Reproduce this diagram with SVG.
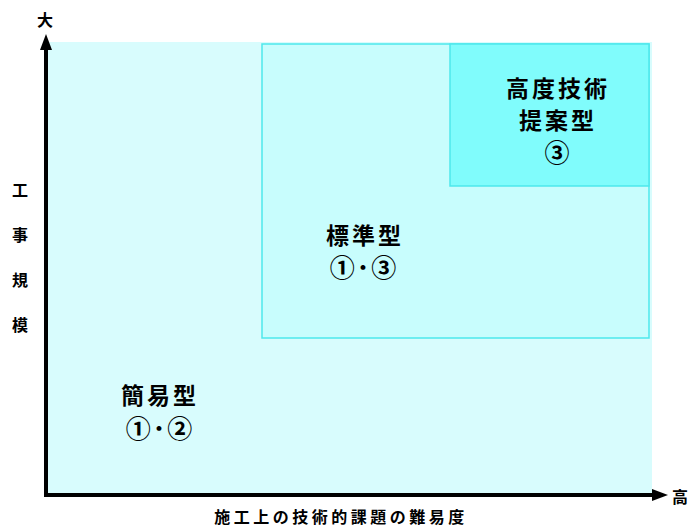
<svg xmlns="http://www.w3.org/2000/svg" width="689" height="528" viewBox="0 0 689 528">
<defs>
<style>
.t{font-family:"Noto Sans CJK JP","Noto Sans CJK SC",sans-serif;font-weight:bold;fill:#000}
.big{font-size:23px;text-anchor:middle;letter-spacing:3px}
.num{font-size:25px;text-anchor:middle;letter-spacing:2px}
.ax{font-size:16px;text-anchor:middle}
.box{stroke:#4de8ec;stroke-width:1.5}
</style>
</defs>
<rect x="0" y="0" width="689" height="528" fill="#fff"/>
<g id="area-simple">
<rect x="46" y="42" width="606" height="453" fill="#d8fcfd"/>
<text class="t big" x="160" y="404">簡易型</text>
<text class="t num" x="160" y="438">①･②</text>
</g>
<g id="area-standard">
<rect class="box" x="262" y="44" width="387" height="294" fill="#c8fdfd"/>
<text class="t big" x="365" y="244">標準型</text>
<text class="t num" x="364" y="277">①･③</text>
</g>
<g id="area-advanced">
<rect class="box" x="450" y="44" width="199" height="142" fill="#80fcfc"/>
<text class="t big" x="558" y="97">高度技術</text>
<text class="t big" x="558" y="129">提案型</text>
<text class="t num" x="558" y="162">③</text>
</g>
<g id="connectors">
<line x1="46" y1="496" x2="46" y2="48" stroke="#000" stroke-width="4"/>
<path d="M46,34 L40,50 L52,50 Z" fill="#000"/>
<line x1="44" y1="495" x2="656" y2="495" stroke="#000" stroke-width="4"/>
<path d="M668,495 L652,489 L652,501 Z" fill="#000"/>
</g>
<g id="labels">
<text class="t ax" x="45" y="26">大</text>
<text class="t ax" x="680" y="503">高</text>
<text class="t ax" x="20" y="196">工</text>
<text class="t ax" x="20" y="241">事</text>
<text class="t ax" x="20" y="286">規</text>
<text class="t ax" x="20" y="331">模</text>
<text class="t ax" x="341" y="523" style="font-size:16px;letter-spacing:3.5px">施工上の技術的課題の難易度</text>
</g>
</svg>
